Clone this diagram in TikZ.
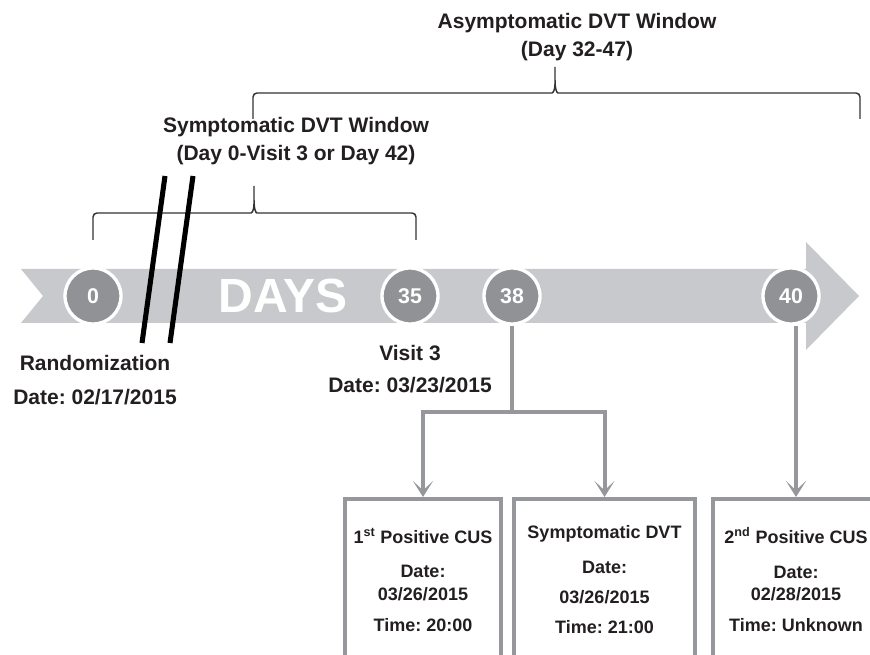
\documentclass[tikz,border=0pt]{standalone}
\usepackage{fontspec}
\setmainfont{Liberation Sans}
\frenchspacing
\usetikzlibrary{arrows.meta, positioning}
\definecolor{grisBanda}{RGB}{200,201,204}
\definecolor{grisCirculo}{RGB}{145,146,150}
\definecolor{grisLinea}{RGB}{150,151,155}
\definecolor{tinta}{RGB}{35,31,32}

\tikzset{
  dia/.style={circle, fill=grisCirculo, draw=white, line width=2.5pt,
    minimum size=42pt, inner sep=0pt, text=white,
    font=\bfseries\fontsize{16}{19}\selectfont},
  caja/.style={draw=grisLinea, line width=3pt, anchor=north, minimum height=121pt,
    align=center, text=tinta, font=\bfseries\fontsize{13.5}{17}\selectfont},
  conector/.style={draw=grisLinea, line width=3pt},
  flecha/.style={conector, -{Stealth[length=12pt, width=15pt, inset=7pt]}},
  llave/.style={draw=black!80, line width=1.1pt, rounded corners=3pt},
  rotulo/.style={align=center, text=tinta, font=\bfseries\fontsize{15.75}{20.5}\selectfont},
  corte/.style={line width=3.8pt, black}
}

\begin{document}
\begin{tikzpicture}[x=0.75pt, y=-0.75pt]
            \useasboundingbox (0,0) rectangle (870,655);
            \clip (0,0) rectangle (870,655);

            % Banda de dias con punta de flecha
            \fill[grisBanda] (21,269) -- (806,269) -- (806,242) -- (859,296)
            -- (806,350) -- (806,323) -- (21,323) -- (43,296) -- cycle;
            \node[text=white, font=\bfseries\fontsize{36}{40}\selectfont] (dias) at (283,296) {DAYS};

            % Dias marcados
            \node[dia] (d0) at (93,296) {0};
            \node[dia] (d35) at (410,296) {35};
            \node[dia] (d38) at (512,296) {38};
            \node[dia] (d40) at (791,296) {40};

            % Ventanas (llaves)
            \draw[llave] (253,119) |- (548,93) .. controls (553,93) and (555,90) .. (555,80) -- (555,67)
            (555,80) .. controls (555,90) and (557,93) .. (562,93) -| (860,119);
            \draw[llave] (93,240) |- (247,213) .. controls (252,213) and (254,210) .. (254,200) -- (254,186)
            (254,200) .. controls (254,210) and (256,213) .. (261,213) -| (416,240);

            \node[rotulo] (asintomatica) at (577,37) {Asymptomatic DVT Window\\(Day 32-47)};
            \node[rotulo] (sintomatica) at (296,141) {Symptomatic DVT Window\\(Day 0-Visit 3 or Day 42)};

            % Corte del eje
            \draw[corte] (165,176) -- (142,343);
            \draw[corte] (193,176) -- (170,343);

            % Etiquetas bajo la banda
            \node[rotulo] (aleatorizacion) at (95,380) {Randomization\\[5pt]Date: 02/17/2015};
            \node[rotulo] (visita) at (410,369) {Visit 3\\[3.5pt]Date: 03/23/2015};

            % Cajas de resultados
            \node[caja, minimum width=117pt] (pos1) at (423,497)
            {1\textsuperscript{st} Positive CUS\\[9pt]Date:\\03/26/2015\\[6pt]Time: 20:00};
            \node[caja, minimum width=135.75pt] (sdvt) at (604.5,497)
            {Symptomatic DVT\\[9pt]Date:\\[5.5pt]03/26/2015\\[5.5pt]Time: 21:00};
            \node[caja, minimum width=124.5pt] (pos2) at (796,497)
            {2\textsuperscript{nd} Positive CUS\\[9pt]Date:\\02/28/2015\\[6pt]Time: Unknown};

            % Conectores
            \coordinate (ramal) at (512,412);
            \draw[conector] (d38.south) -- (ramal);
            \draw[flecha] (ramal) -| (pos1.north);
            \draw[flecha] (ramal) -| (sdvt.north);
            \draw[flecha] (d40.south -| pos2.north) -- (pos2.north);
        \end{tikzpicture}
\end{document}
